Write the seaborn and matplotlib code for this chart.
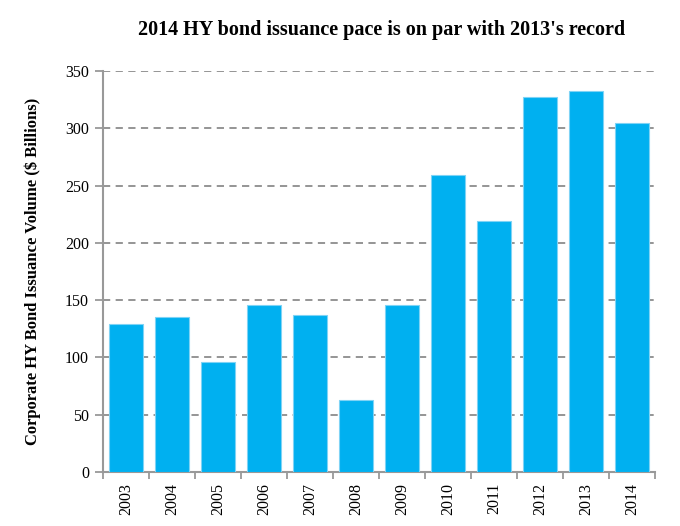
import matplotlib
matplotlib.use("Agg")
import matplotlib.pyplot as plt
import seaborn as sns
import numpy as np
import pandas as pd

years = ["2003", "2004", "2005", "2006", "2007", "2008",
         "2009", "2010", "2011", "2012", "2013", "2014"]
volume = [129, 135, 96, 146, 137, 62.5, 146, 259, 219.5, 327, 332.5, 304.5]

df = pd.DataFrame({"year": years, "volume": volume})

sns.set_style("white")
plt.rcParams["font.family"] = ["Liberation Serif", "DejaVu Serif"]
plt.rcParams["text.color"] = "black"
plt.rcParams["axes.labelcolor"] = "black"
plt.rcParams["xtick.labelcolor"] = "black"
plt.rcParams["ytick.labelcolor"] = "black"

fig = plt.figure(figsize=(6.8, 5.26), dpi=100)
ax = fig.add_axes([103 / 680, 1 - 472 / 526, 552 / 680, 401 / 526])

sns.barplot(data=df, x="year", y="volume", color="#00B0F0", saturation=1,
            width=0.76, edgecolor="#7FD3F5", linewidth=0.8, ax=ax, zorder=3)

ax.set_ylim(0, 350)
ax.set_xlim(-0.5, len(years) - 0.5)
ax.set_yticks(np.arange(0, 351, 50))
ax.yaxis.grid(True, linestyle=(0, (4, 3)), color="#8c8c8c", linewidth=1.3, zorder=0)
ax.set_axisbelow(True)

# ticks between bars, labels under bars
ax.set_xticks(np.arange(-0.5, len(years), 1))
ax.set_xticklabels([])
ax.set_xticks(np.arange(len(years)), minor=True)
ax.set_xticklabels(years, minor=True, rotation=90, fontsize=11.5)
ax.tick_params(axis="x", which="major", direction="out", length=5, width=1.3, color="#999999", bottom=True)
ax.tick_params(axis="x", which="minor", length=0, pad=8)
ax.tick_params(axis="y", direction="out", length=6, width=1.3, color="#999999", left=True, labelsize=11.5, pad=4)

for s in ["top", "right"]:
    ax.spines[s].set_visible(False)
for s in ["left", "bottom"]:
    ax.spines[s].set_color("#999999")
    ax.spines[s].set_linewidth(1.5)

ax.set_xlabel("")
ax.set_ylabel("Corporate HY Bond Issuance Volume ($ Billions)", fontsize=12, fontweight="bold", labelpad=17)
fig.text(382 / 680, 1 - 30 / 526, "2014 HY bond issuance pace is on par with 2013's record",
         ha="center", va="center", fontsize=14.5, fontweight="bold")

fig.savefig("out.png", dpi=100)
